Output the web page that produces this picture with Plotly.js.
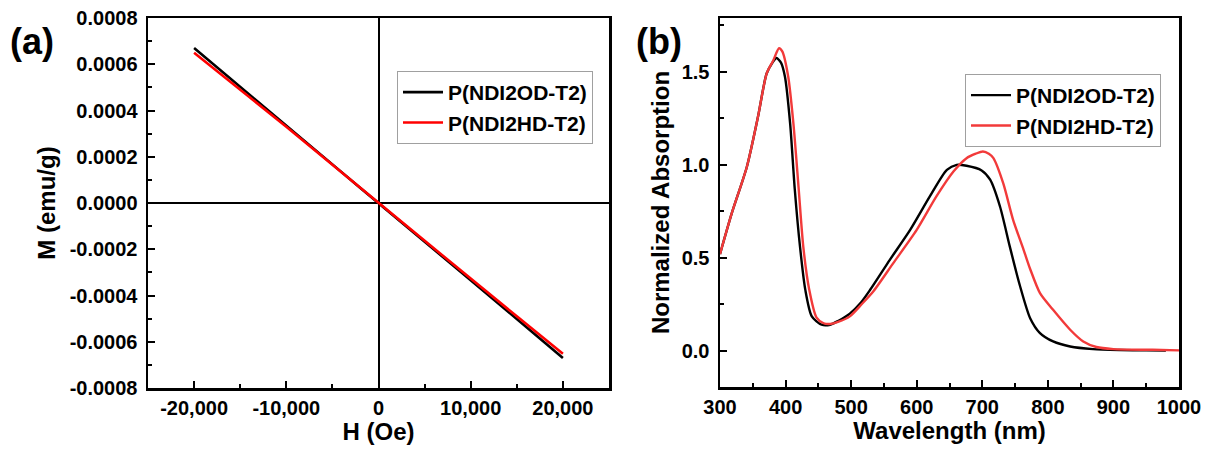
<!DOCTYPE html>
<html>
<head>
<meta charset="utf-8">
<script src="https://cdn.plot.ly/plotly-3.0.1.min.js"></script>
<style>
  html, body { margin: 0; padding: 0; background: #fff; }
  #chart { width: 1211px; height: 454px; }
</style>
</head>
<body>
<div id="chart"></div>
<script>
// (a) Magnetization vs. applied field
const fieldOe = [-20000, -15000, -10000, -5000, -2000, 0, 2000, 5000, 10000, 15000, 20000];
const momentOD = [0.00067, 0.000501, 0.000334, 0.000167, 0.000066, 0.0, -0.000066, -0.000167, -0.000334, -0.000502, -0.00067];
const momentHD = [0.00065, 0.000491, 0.00033, 0.000165, 0.000066, 0.0, -0.000065, -0.000164, -0.000327, -0.00049, -0.000652];

// (b) Normalized UV-vis absorption
const wavelengthOD = [300, 318, 341, 358, 371, 380, 386, 393, 399, 407, 414, 422, 430, 440, 455, 468, 480, 498, 515, 529, 559, 590, 620, 646, 661, 676, 699, 712, 727, 742, 757, 773, 788, 808, 834, 869, 910, 950, 980];
const absorptionOD = [0.52, 0.74, 0.99, 1.26, 1.49, 1.55, 1.575, 1.55, 1.475, 1.22, 0.87, 0.56, 0.33, 0.185, 0.14, 0.14, 0.16, 0.2, 0.26, 0.328, 0.489, 0.65, 0.83, 0.973, 1.0, 0.995, 0.97, 0.92, 0.776, 0.56, 0.355, 0.175, 0.095, 0.05, 0.023, 0.009, 0.004, 0.002, 0.001];
const wavelengthHD = [300, 318, 341, 358, 371, 381, 390, 395, 404, 412, 420, 427, 436, 447, 458, 468, 480, 498, 516, 534, 564, 600, 630, 656, 676, 690, 701, 710, 717, 732, 747, 763, 773, 788, 808, 834, 854, 874, 900, 960, 1000];
const absorptionHD = [0.52, 0.74, 0.99, 1.26, 1.49, 1.56, 1.627, 1.61, 1.475, 1.22, 0.87, 0.56, 0.33, 0.18, 0.148, 0.144, 0.155, 0.185, 0.25, 0.32, 0.47, 0.65, 0.83, 0.964, 1.036, 1.06, 1.072, 1.06, 1.036, 0.90, 0.704, 0.543, 0.44, 0.31, 0.22, 0.113, 0.05, 0.02, 0.009, 0.005, 0.002];

const seriesNames = ['P(NDI2OD-T2)', 'P(NDI2HD-T2)'];

// Tick labels (plain hyphen for negatives)
const fieldTickVals = [-20000, -10000, 0, 10000, 20000];
const fieldTickText = ['-20,000', '-10,000', '0', '10,000', '20,000'];
const momentTickVals = [-0.0008, -0.0006, -0.0004, -0.0002, 0, 0.0002, 0.0004, 0.0006, 0.0008];
const momentTickText = ['-0.0008', '-0.0006', '-0.0004', '-0.0002', '0.0000', '0.0002', '0.0004', '0.0006', '0.0008'];

const W = 1211, H = 454;
const FONT = 'Arial, "Liberation Sans", sans-serif';
const px = (a, b) => [a / W, b / W];
const py = (top, bottom) => [1 - bottom / H, 1 - top / H];

const frameAxis = {
  showline: true, linecolor: '#000', linewidth: 2.5, mirror: true,
  showgrid: false,
  ticks: 'inside', ticklen: 7, tickwidth: 2, tickcolor: '#000',
  tickfont: { family: FONT, size: 20, color: '#000', weight: 'bold' },
  ticklabelstandoff: 4
};
const minorTicks = (d) => ({ dtick: d, tick0: 0, ticks: 'inside', ticklen: 4, tickwidth: 2, tickcolor: '#000' });
const titleFont = { family: FONT, size: 24, color: '#000', weight: 'bold' };

const traces = [
  { x: fieldOe, y: momentOD, name: seriesNames[0], type: 'scatter', mode: 'lines',
    line: { color: '#000000', width: 2.6 }, xaxis: 'x', yaxis: 'y', legend: 'legend' },
  { x: fieldOe, y: momentHD, name: seriesNames[1], type: 'scatter', mode: 'lines',
    line: { color: '#ff0000', width: 2.6 }, xaxis: 'x', yaxis: 'y', legend: 'legend' },
  { x: wavelengthOD, y: absorptionOD, name: seriesNames[0], type: 'scatter', mode: 'lines',
    line: { color: '#000000', width: 2.4, shape: 'spline', smoothing: 0.7 }, xaxis: 'x2', yaxis: 'y2', legend: 'legend2' },
  { x: wavelengthHD, y: absorptionHD, name: seriesNames[1], type: 'scatter', mode: 'lines',
    line: { color: '#f23a3a', width: 2.4, shape: 'spline', smoothing: 0.7 }, xaxis: 'x2', yaxis: 'y2', legend: 'legend2' }
];

const legendStyle = {
  xanchor: 'left', yanchor: 'top',
  bgcolor: '#fff', bordercolor: '#a0a0a0', borderwidth: 1,
  font: { family: FONT, size: 21, color: '#000', weight: 'bold' },
  tracegroupgap: 0, itemwidth: 40
};

const layout = {
  width: W, height: H,
  margin: { l: 0, r: 0, t: 0, b: 0 },
  paper_bgcolor: '#fff', plot_bgcolor: '#fff',
  font: { family: FONT, color: '#000' },
  showlegend: true,
  xaxis: Object.assign({}, frameAxis, {
    domain: px(148, 609), anchor: 'y', range: [-25000, 25000],
    tickmode: 'array', tickvals: fieldTickVals, ticktext: fieldTickText,
    minor: minorTicks(5000), ticklabelstandoff: 0,
    zeroline: true, zerolinecolor: '#000', zerolinewidth: 2,
    title: { text: 'H (Oe)', font: titleFont, standoff: 4 }
  }),
  yaxis: Object.assign({}, frameAxis, {
    domain: py(18, 388), anchor: 'x', range: [-0.0008, 0.0008],
    tickmode: 'array', tickvals: momentTickVals, ticktext: momentTickText,
    minor: minorTicks(0.0001),
    zeroline: true, zerolinecolor: '#000', zerolinewidth: 1.8,
    title: { text: 'M (emu/g)', font: titleFont, standoff: 8 }
  }),
  xaxis2: Object.assign({}, frameAxis, {
    domain: px(720, 1179), anchor: 'y2', range: [300, 1000],
    dtick: 100, tick0: 300, minor: minorTicks(50), zeroline: false, ticklabelstandoff: 0,
    title: { text: 'Wavelength (nm)', font: titleFont, standoff: 2 }
  }),
  yaxis2: Object.assign({}, frameAxis, {
    domain: py(18, 387), anchor: 'x2', range: [-0.195, 1.79],
    dtick: 0.5, tick0: 0, tickformat: '.1f', minor: minorTicks(0.25), zeroline: false,
    title: { text: 'Normalized Absorption', font: titleFont, standoff: 6 }
  }),
  legend: Object.assign({}, legendStyle, { x: 397 / W, y: 1 - 71 / H }),
  legend2: Object.assign({}, legendStyle, { x: 965 / W, y: 1 - 74 / H }),
  annotations: [
    { text: '(a)', xref: 'paper', yref: 'paper', x: 8 / W, y: 1 - 41 / H,
      xanchor: 'left', yanchor: 'middle', showarrow: false,
      font: { family: FONT, size: 36, color: '#000', weight: 'bold' } },
    { text: '(b)', xref: 'paper', yref: 'paper', x: 634 / W, y: 1 - 41 / H,
      xanchor: 'left', yanchor: 'middle', showarrow: false,
      font: { family: FONT, size: 36, color: '#000', weight: 'bold' } }
  ]
};

Plotly.newPlot('chart', traces, layout, { staticPlot: true, displayModeBar: false });
</script>
</body>
</html>
